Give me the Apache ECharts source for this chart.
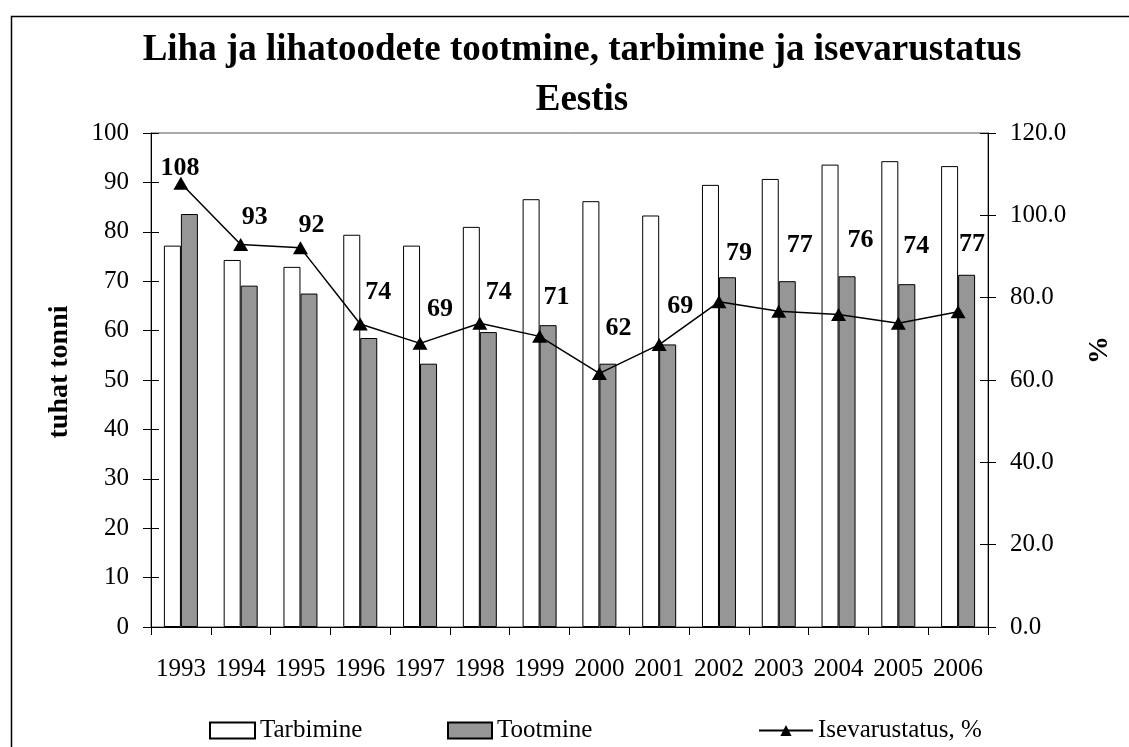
<!DOCTYPE html>
<html>
<head>
<meta charset="utf-8">
<script src="https://cdn.jsdelivr.net/npm/echarts@6/dist/echarts.min.js"></script>
<style>
    html, body { margin: 0; padding: 0; background: #fff; }
    #chart { width: 1129px; height: 747px; }
</style>
</head>
<body>
<div id="chart"></div>
<script>
// andmed
var years = ["1993", "1994", "1995", "1996", "1997", "1998", "1999", "2000", "2001", "2002", "2003", "2004", "2005", "2006"];
var tarbimine = [77.2, 74.3, 72.9, 79.4, 77.2, 81.0, 86.6, 86.2, 83.3, 89.5, 90.7, 93.6, 94.3, 93.3];
var tootmine = [83.6, 69.1, 67.5, 58.5, 53.3, 59.7, 61.1, 53.3, 57.2, 70.8, 70.0, 71.0, 69.4, 71.3];
var isevarustatus = [107.8, 92.9, 92.1, 73.6, 68.9, 73.8, 70.6, 61.6, 68.6, 79.0, 76.7, 75.9, 73.8, 76.6];
var leftTicks = [0, 100, 10];
var rightTicks = [0, 120, 20];

// sildid on joonisel nihutatud (px)
var labelShift = [[-1, -15], [14, -27], [11, -23], [18, -32], [20, -34], [19, -31], [17, -39],
    [19, -45], [21, -38], [20, -49], [21, -66], [22, -74], [18, -77], [14, -67]];

var font = "Liberation Serif";
var chart = echarts.init(document.getElementById("chart"));

function tickAxis(pos, t, inside) {
    return {
        type: "value",
        position: pos,
        min: t[0], max: t[1], interval: t[2],
        axisLine: { show: false },
        axisTick: { show: true, inside: inside, length: 8, lineStyle: { color: "#000" } },
        axisLabel: { show: false },
        splitLine: { show: false }
    };
}

var legendText = { fontFamily: font, fontSize: 25, color: "#000" };

var option = {
    animation: false,
    textStyle: { fontFamily: font, color: "#000" },
    title: {
        text: "Liha ja lihatoodete tootmine, tarbimine ja isevarustatus\nEestis",
        left: 577,
        top: 20,
        textAlign: "center",
        textStyle: { fontFamily: font, fontSize: 37, fontWeight: "bold", color: "#000", lineHeight: 50 }
    },
    legend: [
        {
            data: [{ name: "Tarbimine", icon: "rect" }], left: 204, top: 713, itemWidth: 45, itemHeight: 16, itemGap: 0,
            textStyle: legendText
        },
        {
            data: [{ name: "Tootmine", icon: "rect" }], left: 442, top: 713, itemWidth: 44, itemHeight: 16, itemGap: 0,
            textStyle: legendText
        },
        {
            data: ["Isevarustatus, %"], left: 753, top: 713, itemWidth: 54, itemHeight: 14, itemGap: 0,
            textStyle: legendText
        }
    ],
    grid: {
        left: 151, right: 141, top: 133, bottom: 120,
        show: true, borderColor: "#555", borderWidth: 1
    },
    graphic: [
        {
            type: "rect", left: 9, top: 14, silent: true,
            shape: { width: 1200, height: 800 },
            style: { fill: "none", stroke: "#000", lineWidth: 1.5 }
        },
        {
            type: "text", x: 60, y: 372, rotation: Math.PI / 2,
            style: { text: "tuhat tonni", fontFamily: font, fontSize: 28, fontWeight: "bold", fill: "#000", align: "center", verticalAlign: "middle" }
        },
        {
            type: "text", x: 1100, y: 350, rotation: Math.PI / 2,
            style: { text: "%", fontFamily: font, fontSize: 28, fontWeight: "bold", fill: "#000", align: "center", verticalAlign: "middle" }
        }
    ],
    xAxis: {
        type: "category",
        data: years,
        axisLine: { lineStyle: { color: "#000", width: 1 } },
        axisTick: { show: true, length: 8, lineStyle: { color: "#000" } },
        axisLabel: { fontFamily: font, fontSize: 25, color: "#000", margin: 30, interval: 0 }
    },
    yAxis: [
        {
            type: "value",
            position: "left",
            min: leftTicks[0], max: leftTicks[1], interval: leftTicks[2],
            axisLine: { show: true, lineStyle: { color: "#000" } },
            axisTick: { show: true, length: 8, lineStyle: { color: "#000" } },
            axisLabel: { fontFamily: font, fontSize: 25, color: "#000", margin: 22 },
            splitLine: { show: false }
        },
        {
            type: "value",
            position: "right",
            min: rightTicks[0], max: rightTicks[1], interval: rightTicks[2],
            axisLine: { show: true, lineStyle: { color: "#000" } },
            axisTick: { show: true, length: 8, lineStyle: { color: "#000" } },
            axisLabel: {
                fontFamily: font, fontSize: 25, color: "#000", margin: 22,
                formatter: function (v) { return v.toFixed(1); }
            },
            splitLine: { show: false }
        },
        tickAxis("left", leftTicks, true),
        tickAxis("right", rightTicks, true)
    ],
    series: [
        {
            name: "Tarbimine",
            type: "bar",
            data: tarbimine,
            barWidth: 17,
            barGap: "0%",
            itemStyle: { color: "#fff", borderColor: "#000", borderWidth: 1 }
        },
        {
            name: "Tootmine",
            type: "bar",
            data: tootmine,
            barWidth: 17,
            barGap: "0%",
            itemStyle: { color: "#969696", borderColor: "#000", borderWidth: 1 }
        },
        {
            name: "Isevarustatus, %",
            type: "line",
            yAxisIndex: 1,
            data: isevarustatus.map(function (v, i) {
                return { value: v, label: { offset: labelShift[i] } };
            }),
            symbol: "triangle",
            symbolSize: [15, 13],
            lineStyle: { color: "#000", width: 1.5 },
            itemStyle: { color: "#000" },
            label: {
                show: true,
                position: "inside",
                fontFamily: font,
                fontSize: 26,
                fontWeight: "bold",
                color: "#000",
                formatter: function (p) { return Math.round(p.value); }
            }
        }
    ]
};

chart.setOption(option);
window.addEventListener("resize", function () {
    chart.resize();
});
</script>
</body>
</html>
